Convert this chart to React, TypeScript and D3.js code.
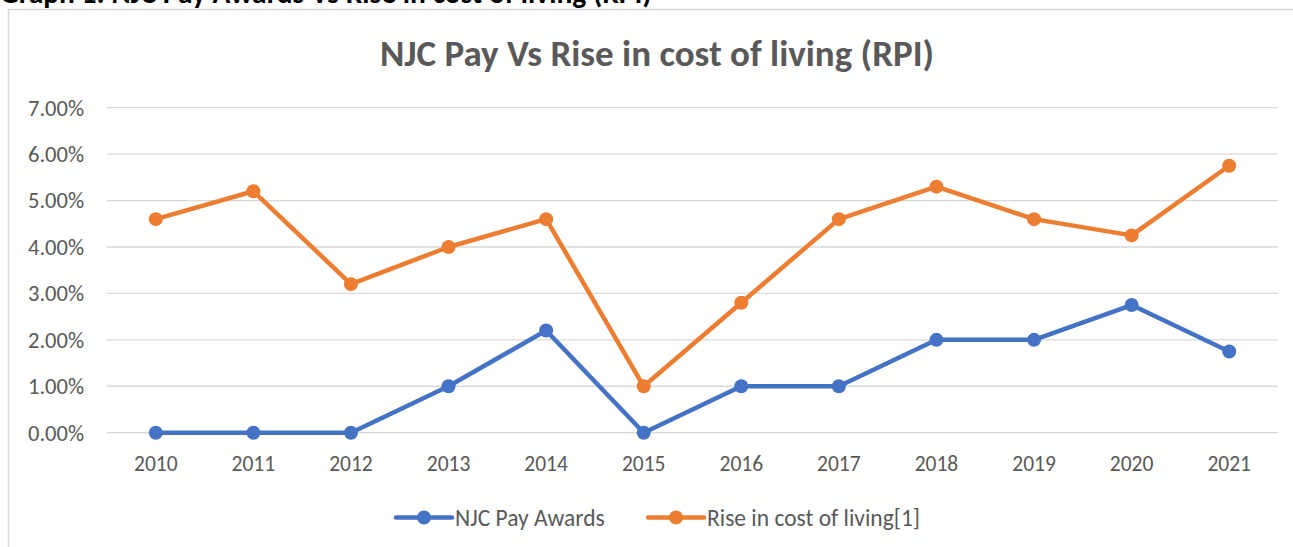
import React from 'react';
import * as d3 from 'd3';

const years = ['2010', '2011', '2012', '2013', '2014', '2015', '2016', '2017', '2018', '2019', '2020', '2021'];
const njcPay = [0, 0, 0, 1, 2.2, 0, 1, 1, 2, 2, 2.75, 1.75];
const rpi = [4.6, 5.2, 3.2, 4.0, 4.6, 1.0, 2.8, 4.6, 5.3, 4.6, 4.25, 5.75];
const yTicks = [0, 1, 2, 3, 4, 5, 6, 7];

const FONT = 'Calibri, Carlito, Lato, sans-serif';
const GREY = '#595959';

const series = [
    { name: 'NJC Pay Awards', values: njcPay, color: '#4472C4' },
    { name: 'Rise in cost of living[1]', values: rpi, color: '#ED7D31' }
];

export default function App() {
    const width = 1293;
    const height = 547;

    let x = d3.scaleBand().domain(years).range([107, 1278]);
    let y = d3.scaleLinear().domain([0, 7]).range([432.7, 107.7]);
    let line = d3
        .line<number>()
        .x((d, i) => x(years[i])! + x.bandwidth() / 2)
        .y((d) => y(d));

    const legendX = [396, 648];

    return (
        <svg width={width} height={height} style={{ position: 'absolute', left: 0, top: 0, background: '#fff' }}>
            <text x={0} y={3} fontFamily={FONT} fontWeight="bold" fontSize={29.5} fill="#000">
                Graph 1: NJC Pay Awards Vs Rise in cost of living (RPI)
            </text>
            <path d={`M8.5,${height} V9.5 H${width}`} fill="none" stroke="#d9d9d9" strokeWidth={1.5} />

            <text x={657} y={66} textAnchor="middle" fontFamily={FONT} fontWeight="bold" fontSize={37} fill={GREY}>
                NJC Pay Vs Rise in cost of living (RPI)
            </text>

            {yTicks.map((t) => (
                <g key={t}>
                    <line x1={107} x2={1278} y1={y(t)} y2={y(t)} stroke="#d9d9d9" strokeWidth={1.3} />
                    <text x={84} y={y(t)} dy="0.35em" textAnchor="end" fontFamily={FONT} fontSize={22.5} fill={GREY}>
                        {(t).toFixed(2) + '%'}
                    </text>
                </g>
            ))}

            {years.map((yr) => (
                <text key={yr} x={x(yr)! + x.bandwidth() / 2} y={471} textAnchor="middle" fontFamily={FONT} fontSize={21.5} fill={GREY}>
                    {yr}
                </text>
            ))}

            {series.map((s) => (
                <g key={s.name}>
                    <path d={line(s.values)!} fill="none" stroke={s.color} strokeWidth={4.5} strokeLinejoin="round" />
                    {s.values.map((v, i) => (
                        <circle key={i} cx={x(years[i])! + x.bandwidth() / 2} cy={y(v)} r={7} fill={s.color} />
                    ))}
                </g>
            ))}

            {series.map((s, i) => (
                <g key={s.name} transform={`translate(${legendX[i]},517.5)`}>
                    <line x1={0} x2={56} y1={0} y2={0} stroke={s.color} strokeWidth={4.5} strokeLinecap="round" />
                    <circle cx={28} cy={0} r={7} fill={s.color} />
                    <text x={59} y={0} dy="0.35em" fontFamily={FONT} fontSize={23.5} fill={GREY}>
                        {s.name}
                    </text>
                </g>
            ))}
        </svg>
    );
}
